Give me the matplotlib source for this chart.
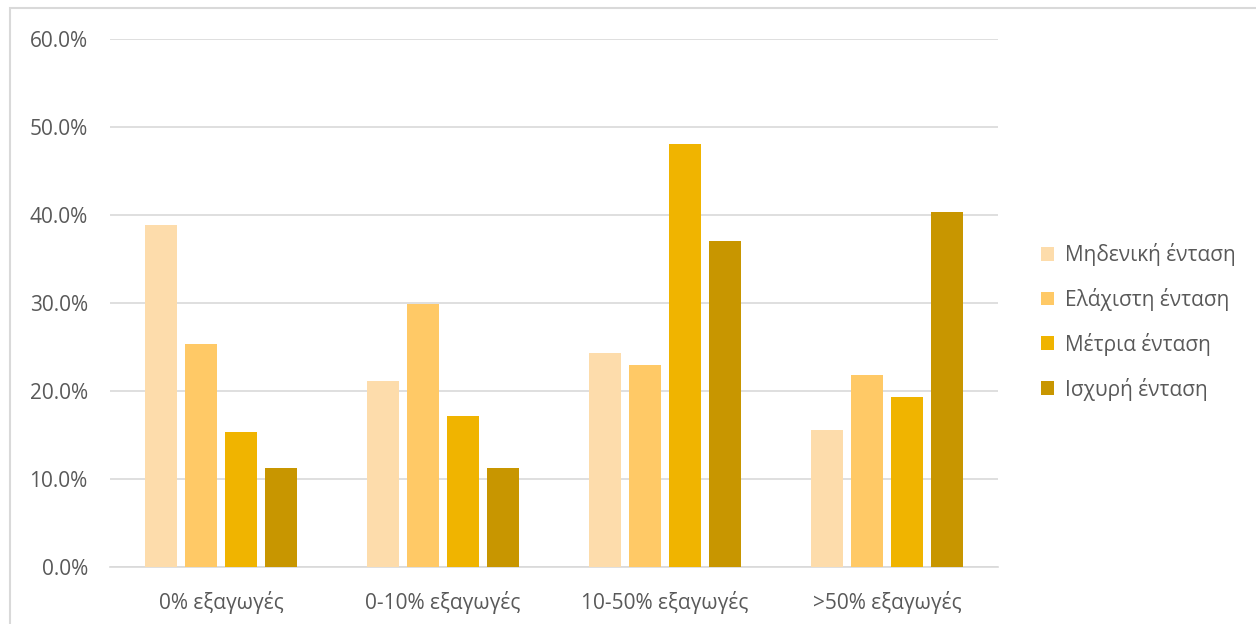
import matplotlib.pyplot as plt
import numpy as np
from matplotlib.patches import Rectangle

plt.rcParams['font.family'] = ['Open Sans', 'DejaVu Sans']

categories = ["0% εξαγωγές", "0-10% εξαγωγές", "10-50% εξαγωγές", ">50% εξαγωγές"]
series_names = ["Μηδενική ένταση", "Ελάχιστη ένταση", "Μέτρια ένταση", "Ισχυρή ένταση"]
zero = [38.9, 21.1, 24.3, 15.6]
minimal = [25.3, 29.9, 22.9, 21.8]
medium = [15.4, 17.2, 48.1, 19.3]
strong = [11.3, 11.3, 37.1, 40.3]
colors = ["#FDDCAB", "#FFC966", "#F0B400", "#C89600"]

text_col = "#595959"
grid_col = "#D9D9D9"

fig = plt.figure(figsize=(12.56, 6.24), dpi=100)
ax = fig.add_axes([0.0876, 0.0913, 0.7070, 0.8462])

x = np.arange(len(categories))
width = 0.144
step = 0.18
for i, (vals, name, c) in enumerate(zip([zero, minimal, medium, strong], series_names, colors)):
    ax.bar(x + (i - 1.5) * step, vals, width, color=c, label=name, zorder=3)

ax.set_xlim(-0.5, 3.5)
ax.set_ylim(0, 60)
ax.set_yticks(np.arange(0, 61, 10))
ax.set_yticklabels([f"{v:.1f}%" for v in np.arange(0, 61, 10)])
ax.set_xticks(x)
ax.set_xticklabels(categories)
ax.tick_params(axis='both', length=0, labelsize=15, colors=text_col)
ax.tick_params(axis='y', pad=16)
ax.tick_params(axis='x', pad=17)
ax.yaxis.grid(True, color=grid_col, linewidth=1.2, zorder=0)
for s in ['top', 'right', 'left']:
    ax.spines[s].set_visible(False)
ax.spines['bottom'].set_color(grid_col)
ax.spines['bottom'].set_linewidth(1.2)

leg = fig.legend(loc='upper left', bbox_to_anchor=(0.822, 0.624), frameon=False,
                 fontsize=15, labelcolor=text_col, handlelength=0.65, handleheight=0.65,
                 handletextpad=0.5, labelspacing=1.05, borderaxespad=0)

# outer chart frame
fig.patches.append(Rectangle((10 / 1256, -0.01), 1.1, 1 - 8 / 624 + 0.01, transform=fig.transFigure,
                             fill=False, edgecolor="#D9D9D9", linewidth=1.5))

fig.savefig("out.png", dpi=100)
